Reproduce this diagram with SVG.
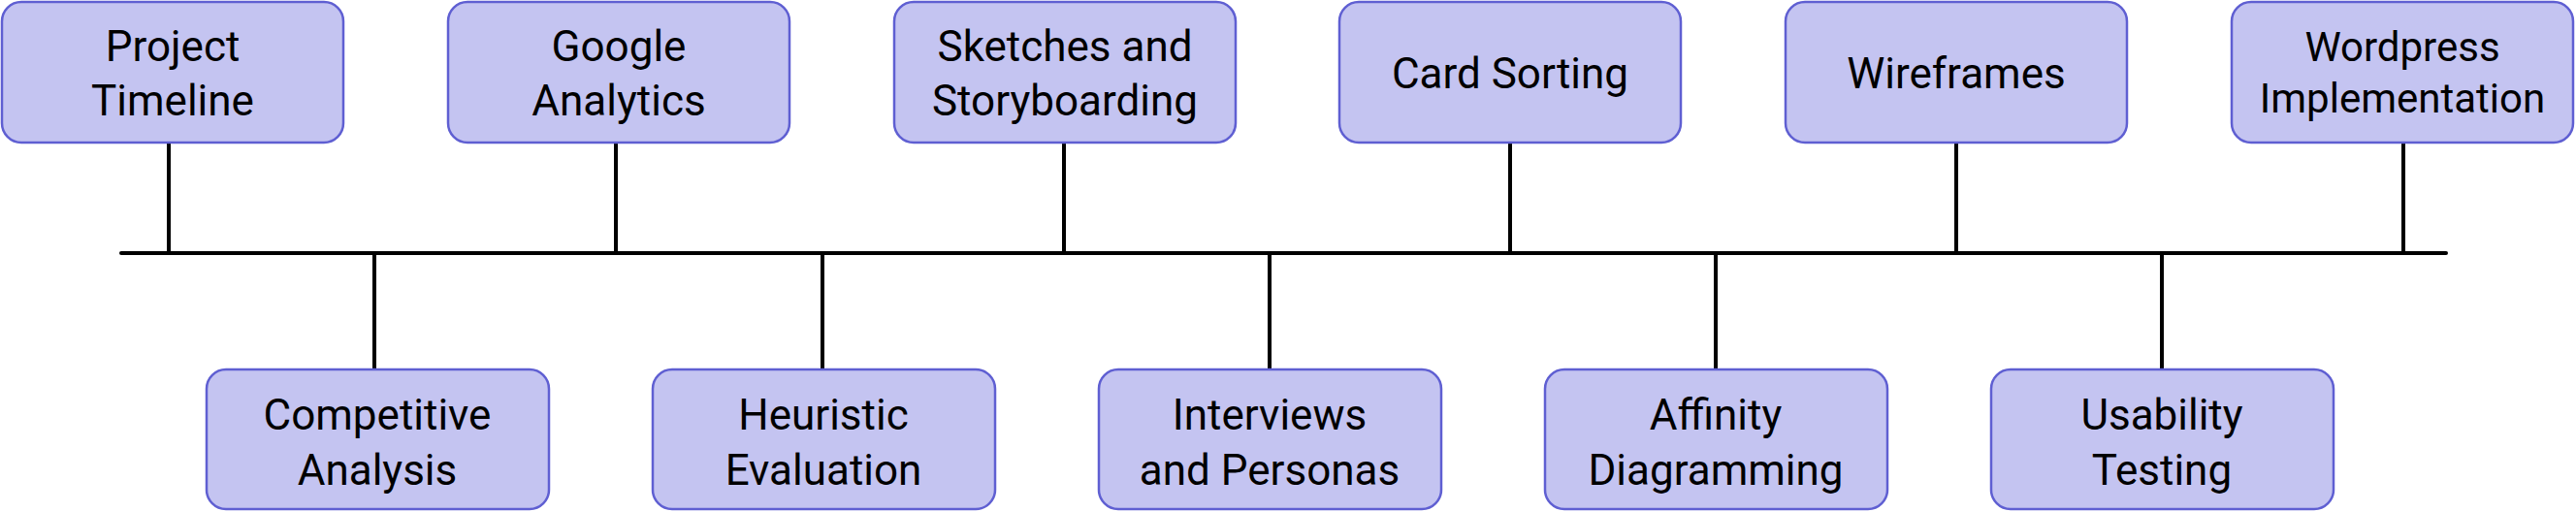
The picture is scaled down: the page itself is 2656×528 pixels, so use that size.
<svg xmlns="http://www.w3.org/2000/svg" width="2656" height="528" viewBox="0 0 2656 528">
<style>
.box{fill:#c4c4f1;stroke:#5f5fd2;stroke-width:2.5}
.t{font-family:Roboto,"Liberation Sans",sans-serif;font-size:44px;fill:#000;text-anchor:middle}
.s{font-size:42px}
.ln{stroke:#000;stroke-width:4;stroke-linecap:round;fill:none}
</style>
<rect width="2656" height="528" fill="#fff"/>
<g id="connectors">
<line class="ln" x1="125" y1="261" x2="2522" y2="261"/>
<line class="ln" x1="174" y1="147" x2="174" y2="261"/>
<line class="ln" x1="635" y1="147" x2="635" y2="261"/>
<line class="ln" x1="1097" y1="147" x2="1097" y2="261"/>
<line class="ln" x1="1557" y1="147" x2="1557" y2="261"/>
<line class="ln" x1="2017" y1="147" x2="2017" y2="261"/>
<line class="ln" x1="2478" y1="147" x2="2478" y2="261"/>
<line class="ln" x1="386" y1="261" x2="386" y2="381"/>
<line class="ln" x1="848" y1="261" x2="848" y2="381"/>
<line class="ln" x1="1309" y1="261" x2="1309" y2="381"/>
<line class="ln" x1="1769" y1="261" x2="1769" y2="381"/>
<line class="ln" x1="2229" y1="261" x2="2229" y2="381"/>
</g>
<g id="project-timeline"><rect class="box" x="2" y="2" width="352" height="145" rx="20"/><text class="t" x="178" y="63">Project</text><text class="t" x="178" y="119">Timeline</text></g>
<g id="google-analytics"><rect class="box" x="462" y="2" width="352" height="145" rx="20"/><text class="t" x="638" y="63">Google</text><text class="t" x="638" y="119">Analytics</text></g>
<g id="sketches"><rect class="box" x="922" y="2" width="352" height="145" rx="20"/><text class="t" x="1098" y="63">Sketches and</text><text class="t" x="1098" y="119">Storyboarding</text></g>
<g id="card-sorting"><rect class="box" x="1381" y="2" width="352" height="145" rx="20"/><text class="t" x="1557" y="91">Card Sorting</text></g>
<g id="wireframes"><rect class="box" x="1841" y="2" width="352" height="145" rx="20"/><text class="t" x="2017" y="91">Wireframes</text></g>
<g id="wordpress"><rect class="box" x="2301" y="2" width="352" height="145" rx="20"/><text class="t s" x="2477" y="63">Wordpress</text><text class="t s" x="2477" y="116">Implementation</text></g>
<g id="competitive-analysis"><rect class="box" x="213" y="381" width="353" height="144" rx="20"/><text class="t" x="389" y="443">Competitive</text><text class="t" x="389" y="500">Analysis</text></g>
<g id="heuristic-evaluation"><rect class="box" x="673" y="381" width="353" height="144" rx="20"/><text class="t" x="849" y="443">Heuristic</text><text class="t" x="849" y="500">Evaluation</text></g>
<g id="interviews"><rect class="box" x="1133" y="381" width="353" height="144" rx="20"/><text class="t" x="1309" y="443">Interviews</text><text class="t" x="1309" y="500">and Personas</text></g>
<g id="affinity"><rect class="box" x="1593" y="381" width="353" height="144" rx="20"/><text class="t" x="1769" y="443">Affinity</text><text class="t" x="1769" y="500">Diagramming</text></g>
<g id="usability"><rect class="box" x="2053" y="381" width="353" height="144" rx="20"/><text class="t" x="2229" y="443">Usability</text><text class="t" x="2229" y="500">Testing</text></g>
</svg>
